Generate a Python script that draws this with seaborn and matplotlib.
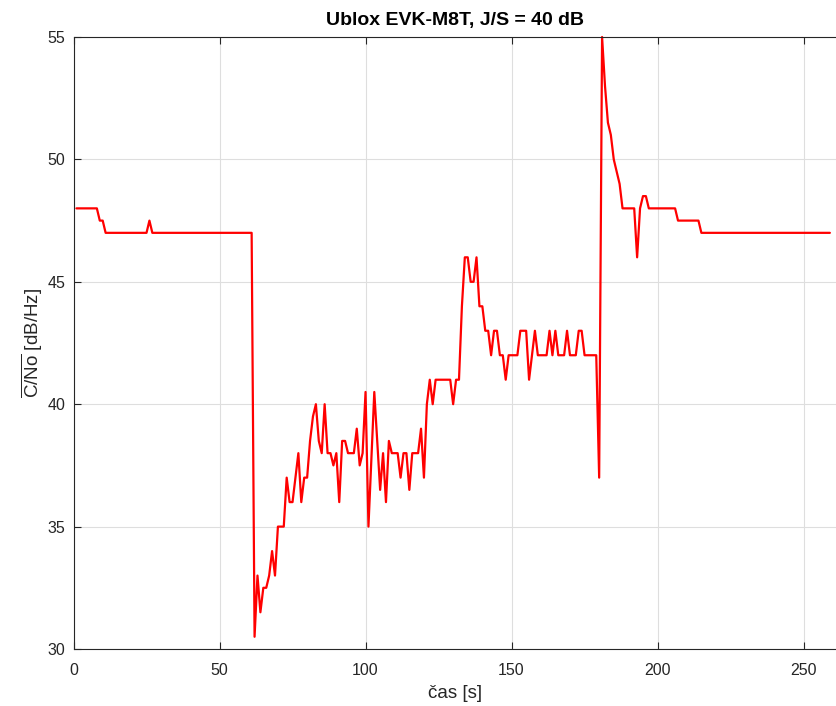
import numpy as np
import pandas as pd
import matplotlib
matplotlib.use("Agg")
import matplotlib.pyplot as plt
import seaborn as sns

# data
time_s = [1, 8, 9, 10, 11, 25, 26, 27, 61, 62, 63, 64, 65, 66, 67, 68, 69, 70, 72, 73,
          74, 75, 77, 78, 79, 80, 81, 82, 83, 84, 85, 86, 87, 88, 89, 90, 91, 92, 93, 94,
          96, 97, 98, 99, 100, 101, 103, 105, 106, 107, 108, 109, 111, 112, 113, 114, 115, 116, 118, 119,
          120, 121, 122, 123, 124, 129, 130, 131, 132, 133, 134, 135, 136, 137, 138, 139, 140, 141, 142, 143,
          144, 145, 146, 147, 148, 149, 152, 153, 155, 156, 158, 159, 162, 163, 164, 165, 166, 168, 169, 170,
          172, 173, 174, 175, 179, 180, 181, 182, 183, 184, 185, 186, 187, 188, 192, 193, 194, 195, 196, 197,
          206, 207, 214, 215, 259]
cno_db = [48, 48, 47.5, 47.5, 47, 47, 47.5, 47, 47, 30.5, 33, 31.5, 32.5, 32.5, 33, 34, 33, 35, 35, 37,
          36, 36, 38, 36, 37, 37, 38.5, 39.5, 40, 38.5, 38, 40, 38, 38, 37.5, 38, 36, 38.5, 38.5, 38,
          38, 39, 37.5, 38, 40.5, 35, 40.5, 36.5, 38, 36, 38.5, 38, 38, 37, 38, 38, 36.5, 38, 38, 39,
          37, 40, 41, 40, 41, 41, 40, 41, 41, 44, 46, 46, 45, 45, 46, 44, 44, 43, 43, 42,
          43, 43, 42, 42, 41, 42, 42, 43, 43, 41, 43, 42, 42, 43, 42, 43, 42, 42, 43, 42,
          42, 43, 43, 42, 42, 37, 55, 53, 51.5, 51, 50, 49.5, 49, 48, 48, 46, 48, 48.5, 48.5, 48,
          48, 47.5, 47.5, 47, 47]

x_ticks = [0, 50, 100, 150, 200, 250]
y_ticks = [30, 35, 40, 45, 50, 55]
title = "Ublox EVK-M8T, J/S = 40 dB"
x_label = "čas [s]"
y_label = r"$\overline{\mathrm{C/No}}$ [dB/Hz]"

sns.set_theme(style="white")
plt.rcParams["font.family"] = ["Liberation Sans", "DejaVu Sans"]
plt.rcParams["mathtext.fontset"] = "custom"
plt.rcParams["mathtext.rm"] = "Liberation Sans"
plt.rcParams["mathtext.it"] = "Liberation Sans:italic"
plt.rcParams["mathtext.bf"] = "Liberation Sans:bold"

df = pd.DataFrame({"t": time_s, "cno": cno_db})

fig = plt.figure(figsize=(8.36, 7.06), dpi=100)
ax = fig.add_axes([73.5 / 836, 1 - 649 / 706, 1 - 73.5 / 836, (649 - 37) / 706])

sns.lineplot(data=df, x="t", y="cno", ax=ax, color="#ff0000", linewidth=1.6,
             estimator=None, sort=False, clip_on=False)

ax.set_xlim(0, 261.1)
ax.set_ylim(30, 55)
ax.set_xticks(x_ticks)
ax.set_yticks(y_ticks)
ax.grid(True, color="#dedede", linewidth=0.8)
ax.set_axisbelow(True)
ax.tick_params(direction="in", length=5, width=0.8, colors="#262626",
               labelsize=11.5, top=True, right=False, left=True, bottom=True)
ax.tick_params(axis="x", pad=10)
ax.tick_params(axis="y", pad=6)
for side, sp in ax.spines.items():
    sp.set_color("#262626")
    sp.set_linewidth(0.8)
    sp.set_visible(side != "right")

ax.set_title(title, fontsize=14, fontweight="bold", color="#000000", pad=9)
ax.set_xlabel(x_label, fontsize=13.5, color="#262626", labelpad=5)
ax.set_ylabel(y_label, fontsize=13.5, color="#262626", labelpad=2)

fig.savefig("out.png", dpi=100)
